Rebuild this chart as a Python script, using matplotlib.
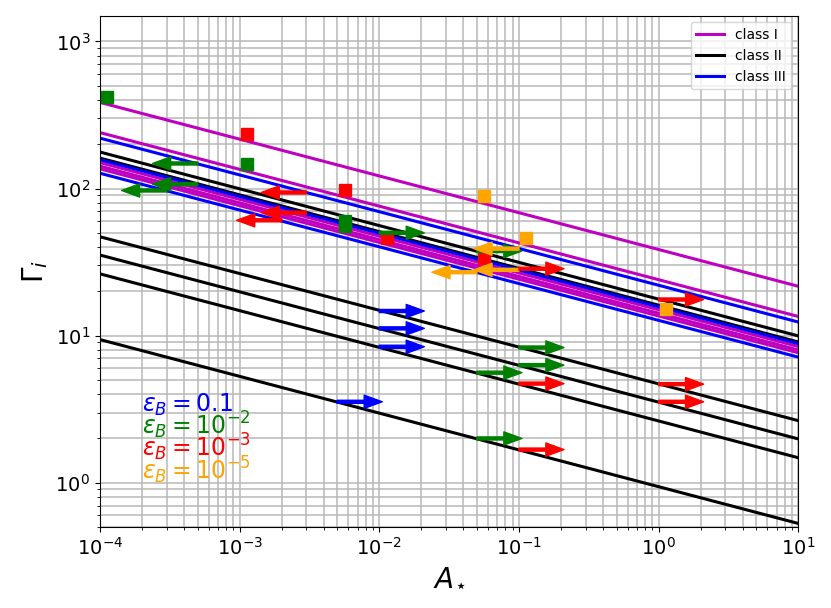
import matplotlib.pyplot as plt
import numpy as np

# Gamma at A_star = 1e-4 for each line, all lines go as A^(-1/4)
class1_norm = [385, 240, 150, 142, 136]
class2_norm = [177, 161, 47, 35.3, 26.3, 9.4]
class3_norm = [220, 157, 127]

# square markers: (A, Gamma, colour)
sq_x = [1.13e-4, 1.13e-3, 1.13e-3, 5.7e-3, 5.7e-3, 5.7e-3, 1.13e-2, 5.66e-2, 0.113, 5.66e-2, 1.13]
sq_y = [417, 234, 147, 97, 59.8, 55.8, 46.4, 88.7, 46.1, 33.9, 15.2]
sq_c = ['g', 'r', 'g', 'r', 'g', 'g', 'r', 'orange', 'orange', 'r', 'orange']

# arrows: start A, Gamma, colour, direction (+1 right / -1 left)
ar_x = [5e-4, 5e-4, 3e-4, 3e-3, 3e-3, 2e-3, 0.01, 0.05, 0.1, 0.1, 0.05, 0.1, 1.0,
        0.01, 0.01, 0.01, 5e-3, 0.1, 0.1, 0.05, 0.1, 1.0, 1.0, 0.05, 0.1]
ar_y = [148, 107, 97, 94, 68.5, 60.8, 50, 37.6, 39, 28, 27, 28.5, 17.6,
        14.7, 11.2, 8.4, 3.55, 8.3, 6.3, 5.6, 4.72, 4.68, 3.55, 2.0, 1.68]
ar_c = ['g', 'g', 'g', 'r', 'r', 'r', 'g', 'g', 'orange', 'orange', 'orange', 'r', 'r',
        'b', 'b', 'b', 'b', 'g', 'g', 'g', 'r', 'r', 'r', 'g', 'r']
ar_d = [-1, -1, -1, -1, -1, -1, 1, 1, -1, -1, -1, 1, 1,
        1, 1, 1, 1, 1, 1, 1, 1, 1, 1, 1, 1]

eps_labels = [r'$\varepsilon_B=0.1$', r'$\varepsilon_B=10^{-2}$',
              r'$\varepsilon_B=10^{-3}$', r'$\varepsilon_B=10^{-5}$']
eps_colors = ['b', 'g', 'r', 'orange']
eps_y = [3.05, 2.12, 1.52, 1.06]

A = np.logspace(-4, 1, 200)

fig = plt.figure(figsize=(8.31, 6.08), dpi=100)
ax = fig.add_axes([0.1203, 0.1332, 0.8403, 0.8413])

for i, g in enumerate(class1_norm):
    ax.plot(A, g * (A / 1e-4) ** -0.25, color='m', lw=2.2, label='class I' if i == 0 else None)
for i, g in enumerate(class2_norm):
    ax.plot(A, g * (A / 1e-4) ** -0.25, color='k', lw=2.2, label='class II' if i == 0 else None)
for i, g in enumerate(class3_norm):
    ax.plot(A, g * (A / 1e-4) ** -0.25, color='b', lw=2.2, label='class III' if i == 0 else None)

for x, y, c in zip(sq_x, sq_y, sq_c):
    ax.plot(x, y, 's', color=c, ms=8.5)

for x, y, c, d in zip(ar_x, ar_y, ar_c, ar_d):
    x_end = x * 2.1 if d > 0 else x / 2.1
    ax.annotate('', xy=(x_end, y), xytext=(x, y),
                arrowprops=dict(facecolor=c, edgecolor=c, width=2.2, headwidth=9.5,
                                headlength=13, shrink=0))

for lab, c, y in zip(eps_labels, eps_colors, eps_y):
    ax.text(2e-4, y, lab, color=c, fontsize=17, va='baseline', ha='left')

ax.set_xscale('log')
ax.set_yscale('log')
ax.set_xlim(1e-4, 10)
ax.set_ylim(0.5, 1500)
ax.grid(True, which='both', color='#b8b8b8', lw=1.1)
ax.tick_params(labelsize=14)
ax.set_xlabel(r'$A_{\!\star}$', fontsize=20)
ax.set_ylabel(r'$\Gamma_i$', fontsize=20)
ax.legend(loc='upper right', fontsize=10)

plt.savefig('out.png', dpi=100)
